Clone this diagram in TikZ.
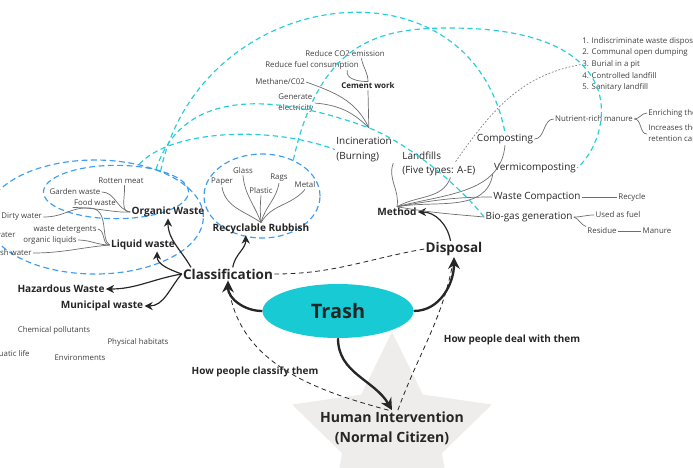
\documentclass[tikz,border=0pt]{standalone}
\usepackage{fontspec}
\setmainfont{Open Sans}
\usetikzlibrary{shapes.geometric,arrows.meta}
\definecolor{ink}{HTML}{262626}
\definecolor{leafink}{HTML}{404040}
\definecolor{twiggray}{HTML}{6E6E6E}
\definecolor{trashcyan}{HTML}{17CAD3}
\definecolor{starfill}{HTML}{EFEDEB}
\definecolor{linkcyan}{HTML}{25CEDC}
\definecolor{ringblue}{HTML}{3F9EF0}

\begin{document}
\begin{tikzpicture}[x=0.03cm, y=-0.03cm,
  big/.style={font=\bfseries\fontsize{11.5}{14}\selectfont, text=ink, inner sep=1pt},
  head/.style={font=\bfseries\fontsize{8.6}{10}\selectfont, text=ink, inner sep=1pt},
  item/.style={font=\fontsize{8.5}{12.5}\selectfont, text=ink, inner sep=1pt},
  leaf/.style={font=\fontsize{6.7}{9.6}\selectfont, text=leafink, inner sep=1pt},
  twig/.style={draw=twiggray, line width=0.6pt},
  mainarrow/.style={draw=ink, line width=2pt, -{Stealth[length=10pt,width=10pt]}},
  branch/.style={draw=ink, line width=1pt, -{Stealth[length=7pt,width=7pt]}},
  relation/.style={draw=ink, line width=0.7pt, dash pattern=on 4pt off 3pt},
  crosslink/.style={draw=linkcyan, line width=1pt, dash pattern=on 4.5pt off 3pt},
  ring/.style={ellipse, draw=ringblue, line width=1pt, dash pattern=on 5pt off 3pt, inner sep=0pt}]
  \useasboundingbox (0,0) rectangle (693,467);

  % Centre
  \node[star, star points=5, star point ratio=2, minimum size=6.3cm, fill=starfill, inner sep=0pt] (star) at (392,437) {};
  \node[ellipse, fill=trashcyan, minimum width=4.53cm, minimum height=1.62cm, inner sep=0pt,
        font=\bfseries\fontsize{17}{20}\selectfont, text=ink] (trash) at (338,311) {Trash};
  \node[big, align=center, font=\bfseries\fontsize{12}{17}\selectfont] (human) at (392,428) {Human Intervention\\(Normal Citizen)};
  \node[big] (classif) at (228,274) {Classification};
  \node[big] (disposal) at (454,249) {Disposal};
  \node[font=\bfseries\fontsize{8.5}{10}\selectfont, text=ink] (classifyhow) at (255,372) {How people classify them};
  \node[font=\bfseries\fontsize{8.5}{10}\selectfont, text=ink] (dealhow) at (512,340) {How people deal with them};

  % Groups
  \node[ring, minimum width=6.5cm, minimum height=3.42cm] (outring) at (95,217) {};
  \node[ring, minimum width=4.35cm, minimum height=1.6cm] (orgring) at (116,192) {};
  \node[ring, minimum width=3.48cm, minimum height=2.52cm] (recring) at (262,196) {};

  % Classification
  \node[head] (organic) at (168,212) {Organic Waste};
  \node[head] (liquid) at (143,245) {Liquid waste};
  \node[head] (recyc) at (261,229) {Recyclable Rubbish};
  \node[head] (hazard) at (61,289) {Hazardous Waste};
  \node[head] (municipal) at (102,306) {Municipal waste};
  \node[leaf] (rotten) at (121,181) {Rotten meat};
  \node[leaf] (garden) at (75,192) {Garden waste};
  \node[leaf] (food) at (95,203) {Food waste};
  \node[leaf, anchor=west] (dirty) at (0,217) {Dirty water};
  \node[leaf] (deterg) at (65,229) {waste detergents};
  \node[leaf] (orgliq) at (50,240) {organic liquids};
  \node[leaf, anchor=east] (wastewater) at (17,235) {Wastewater};
  \node[leaf, anchor=east] (freshwater) at (33,253) {Fresh water};
  \node[leaf] (paper) at (222,182) {Paper};
  \node[leaf] (glass) at (243,171) {Glass};
  \node[leaf] (plastic) at (261,191) {Plastic};
  \node[leaf] (rags) at (279,178) {Rags};
  \node[leaf] (metal) at (305,185) {Metal};
  \node[leaf] (chem) at (54,330) {Chemical pollutants};
  \node[leaf] (habitat) at (138,342) {Physical habitats};
  \node[leaf, anchor=east] (aquatic) at (31,354) {Aquatic life};
  \node[leaf] (environ) at (80,358) {Environments};

  % Disposal
  \node[head] (method) at (397,212) {Method};
  \node[item, align=left, anchor=north west] (incin) at (335,136) {Incineration\\(Burning)};
  \node[font=\bfseries\fontsize{6.8}{8}\selectfont, text=ink, inner sep=1pt] (cement) at (368,86) {Cement work};
  \node[leaf] (co2) at (345,54) {Reduce CO2 emission};
  \node[leaf] (fuel) at (312,65) {Reduce fuel consumption};
  \node[leaf] (methane) at (280,82) {Methane/C02};
  \node[leaf, align=left, anchor=west] (electric) at (277,103) {Generate\\electricity};
  \node[item, align=left, anchor=north west] (landfill) at (401,150) {Landfills\\(Five types: A-E)};
  \node[item] (composting) at (505,139) {Composting};
  \node[item] (vermi) at (535,168) {Vermicomposting};
  \node[item] (compaction) at (537,197) {Waste Compaction};
  \node[item] (biogas) at (529,217) {Bio-gas generation};
  \node[leaf] (nutrient) at (594,119) {Nutrient-rich manure};
  \node[leaf, anchor=west] (enrich) at (647,113) {Enriching the soil};
  \node[leaf, anchor=west, align=left] (increase) at (647,134) {Increases the water\\retention capacity};
  \node[leaf, anchor=north west, align=left, font=\fontsize{6.7}{9.9}\selectfont] (types) at (581,36)
    {1. Indiscriminate waste disposal\\2. Communal open dumping\\3. Burial in a pit\\4. Controlled landfill\\5. Sanitary landfill};
  \node[leaf] (recycle) at (632,197) {Recycle};
  \node[leaf] (usedfuel) at (618,215) {Used as fuel};
  \node[leaf] (residue) at (602,231) {Residue};
  \node[leaf] (manure) at (657,231) {Manure};

  % Main arrows
  \draw[mainarrow] (trash.west) to[out=180, in=-90] (classif.south);
  \draw[mainarrow] (trash.east) to[out=0, in=-90] (disposal.south);
  \draw[mainarrow] (trash.south) to[out=-90, in=120] (human.north);
  \draw[branch] ([xshift=8pt]classif.north west) to[out=120, in=-90] (organic.south);
  \draw[branch] (classif.west) to[out=160, in=-90] ([xshift=12pt]liquid.south);
  \draw[branch] ([xshift=4pt]classif.north) to[out=80, in=-90] ([xshift=-13pt]recyc.south);
  \draw[branch] (classif.west) to[out=190, in=0] (hazard.east);
  \draw[branch] (classif.west) to[out=230, in=0] (municipal.east);
  \draw[branch] ([xshift=-3pt]disposal.north) to[out=100, in=0] (method.east);
  \draw[relation] (classif.east) to[out=0, in=190] (disposal.west);
  \draw[relation] ([xshift=-3pt]human.north) to[out=165, in=-85] (classif.south);
  \draw[relation] ([xshift=5pt]human.north) to[out=70, in=-100] (disposal.south);

  % Twigs
  \draw[twig] ([xshift=3pt]rotten.south) to[out=-85, in=180] (organic.west);
  \draw[twig] (garden.east) to[out=0, in=170] (organic.west);
  \draw[twig] (food.south west) .. controls (100,208) and (115,213) .. (organic.west);
  \draw[twig] (dirty.east) .. controls (65,217) and (70,207) .. (90,208) .. controls (110,209) and (100,240) .. (liquid.west);
  \draw[twig] (deterg.east) to[out=-10, in=180] (liquid.west);
  \draw[twig] (orgliq.east) to[out=0, in=180] (liquid.west);
  \draw[twig] (freshwater.east) to[out=0, in=185] (liquid.west);
  \draw[twig] (paper.south) to[out=-80, in=145] (recyc.north);
  \draw[twig] (glass.south) to[out=-85, in=110] (recyc.north);
  \draw[twig] (plastic.south) to[out=-95, in=95] (recyc.north);
  \draw[twig] (rags.south) to[out=-100, in=75] (recyc.north);
  \draw[twig] (metal.south) to[out=-130, in=60] (recyc.north);
  \draw[twig] (cement.south) -- ([xshift=4pt,yshift=7pt]incin.north);
  \draw[twig] (methane.east) to[out=-20, in=115] ([xshift=4pt,yshift=7pt]incin.north);
  \draw[twig] (electric.east) to[out=-5, in=135] ([xshift=4pt,yshift=7pt]incin.north);
  \draw[twig] ([xshift=30pt]fuel.south) to[out=-100, in=180] (cement.north);
  \draw[twig] ([xshift=14pt]co2.south) to[out=-80, in=90] (cement.north);
  \draw[twig] (incin.south east) to[out=-110, in=80] (method.north);
  \draw[twig] ([xshift=10pt]landfill.south) to[out=-110, in=30] (method.north);
  \draw[twig] (composting.south) to[out=-95, in=15] (method.north);
  \draw[twig] (vermi.south west) to[out=-100, in=10] (method.north);
  \draw[twig] (compaction.west) to[out=180, in=10] (method.north);
  \draw[twig] (biogas.west) to[out=175, in=-10] (method.north);
  \draw[twig] (composting.east) to[out=0, in=180] (nutrient.west);
  \draw[twig] (nutrient.east) to[out=0, in=180] (enrich.west);
  \draw[twig] (nutrient.east) to[out=0, in=180] (increase.west);
  \draw[twig] (compaction.east) -- (recycle.west);
  \draw[twig] (biogas.east) to[out=0, in=180] (usedfuel.west);
  \draw[twig] (biogas.east) to[out=-20, in=160] (residue.north west);
  \draw[twig] (residue.east) -- (manure.west);
  \draw[draw=gray, line width=0.6pt, dash pattern=on 1.5pt off 1.5pt]
    ([xshift=-18pt,yshift=-10pt]landfill.north east) to[out=55, in=190] (types.west);

  % Cross links
  \draw[crosslink] (outring.35) .. controls (200,-15) and (470,-50) .. (composting.north);
  \draw[crosslink] (outring.50) .. controls (170,130) and (270,125) .. (incin.west);
  \draw[crosslink] (outring.38) .. controls (180,95) and (260,88) .. ([xshift=4pt,yshift=7pt]incin.north)
    .. controls (400,140) and (450,175) .. (biogas.west);
  \draw[crosslink] (recring.49) .. controls (320,40) and (380,28) .. (450,28)
    .. controls (640,28) and (610,140) .. (vermi.east);
\end{tikzpicture}
\end{document}
